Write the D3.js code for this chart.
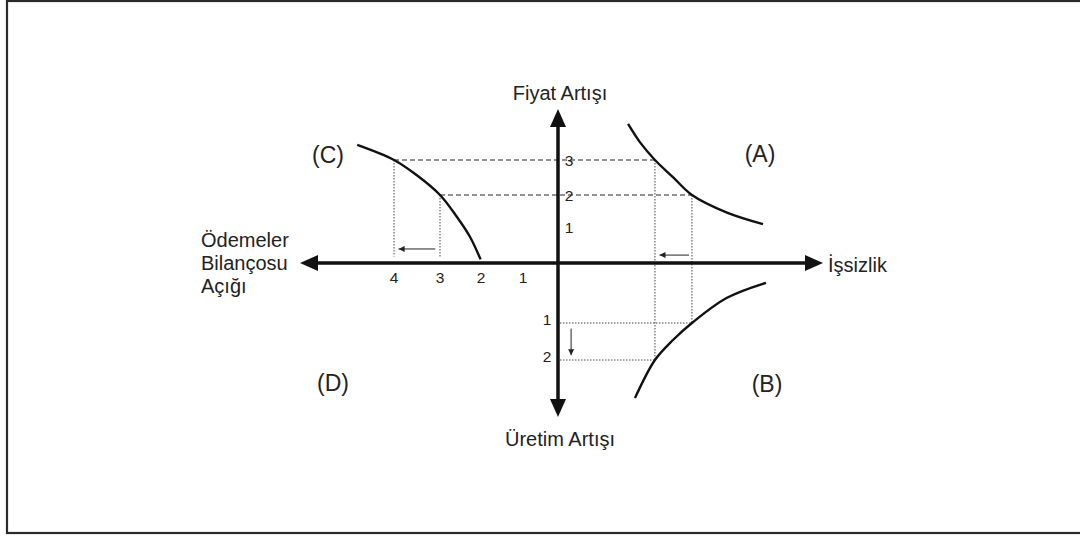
<!DOCTYPE html>
<html><head><meta charset="utf-8">
<script src="https://cdn.jsdelivr.net/npm/d3@7"></script>
<style>html,body{margin:0;padding:0;background:#fff;}svg{display:block;}</style>
</head><body>
<script>
// ---------- DATA ----------
const priceTicks = [1, 2, 3];          // Fiyat Artışı (up)
const deficitTicks = [1, 2, 3, 4];     // Ödemeler Bilançosu Açığı (left)
const outputTicks = [1, 2];            // Üretim Artışı (down)
// (C): [deficit, price]
const curveC = [[4.8, 3.43], [4, 3], [3.51, 2.57], [3, 2], [2.59, 1.32], [2.27, 0.73], [2.01, 0.1]];
// (A): [unemployment, price]
const curveA = [[2.14, 4.03], [2.5, 3.51], [2.96, 3.0], [3.51, 2.51], [4.09, 2.0], [5.16, 1.45], [6.26, 1.09]];
// (B): [unemployment, output]
const curveB = [[2.35, 3.03], [2.96, 2], [3.51, 1.46], [4.09, 1], [5.16, 0.58], [6.35, 0.33]];
const unempLevels = [2.96, 4.09];   // unemployment at price 3 and 2
const quadrantLabels = ["(A)", "(B)", "(C)", "(D)"];
const axisLabels = { up: "Fiyat Artışı", down: "Üretim Artışı", right: "İşsizlik", left: ["Ödemeler", "Bilançosu", "Açığı"] };

// ---------- LAYOUT ----------
const W = 1080, H = 539;
const ox = 558, oy = 263;
const svg = d3.select("body").append("svg").attr("width", W).attr("height", H);
const font = "'Liberation Sans', Arial, Helvetica, sans-serif";

const yUp = d3.scaleLinear().domain([0, 1, 2, 3]).range([oy, 227, 195, 160]);
const yDown = d3.scaleLinear().domain([0, 1, 2]).range([oy, 323, 360]);
const xLeft = d3.scaleLinear().domain([0, 1, 2, 3, 4]).range([ox, 523, 481, 440, 394]);
const xRight = d3.scaleLinear().domain([0, 8]).range([ox, 820]);

// frame
svg.append("rect").attr("x", 7).attr("y", 1).attr("width", 1090).attr("height", 532)
  .attr("fill", "none").attr("stroke", "#2a2a2a").attr("stroke-width", 2.2);

// marker for small arrows
svg.append("defs").append("marker").attr("id", "sa").attr("viewBox", "0 0 10 10")
  .attr("refX", 10).attr("refY", 5).attr("markerWidth", 7).attr("markerHeight", 6)
  .attr("markerUnits", "userSpaceOnUse").attr("orient", "auto")
  .append("path").attr("d", "M0,0L10,5L0,10Z").attr("fill", "#222");

const g = svg.append("g");
const dashed = { stroke: "#222", "stroke-width": 1.1, "stroke-dasharray": "5,3" };
const dotted = { stroke: "#444", "stroke-width": 1, "stroke-dasharray": "1.5,1.5" };
function line(x1, y1, x2, y2, st) {
  const l = g.append("line").attr("x1", x1).attr("y1", y1).attr("x2", x2).attr("y2", y2).attr("fill", "none");
  Object.entries(st).forEach(([k, v]) => l.attr(k, v));
  return l;
}

// dashed horizontals (price 3 and 2), from C to A
line(xLeft(4), yUp(3), xRight(unempLevels[0]), yUp(3), dashed);
line(xLeft(3), yUp(2), xRight(unempLevels[1]), yUp(2), dashed);
// dotted verticals left
line(xLeft(4), yUp(3), xLeft(4), yUp(0.18), dotted);
line(xLeft(3), yUp(2), xLeft(3), yUp(0.18), dotted);
// dotted verticals right
line(xRight(unempLevels[0]), yUp(3), xRight(unempLevels[0]), yDown(2), dotted);
line(xRight(unempLevels[1]), yUp(2), xRight(unempLevels[1]), yDown(1), dotted);
// dotted horizontals bottom
line(xRight(0.06), yDown(1), xRight(unempLevels[1] + 0.1), yDown(1), dotted);
line(xRight(0.06), yDown(2), xRight(unempLevels[0]), yDown(2), dotted);

// small arrows
const sa = { stroke: "#222", "stroke-width": 1 };
line(xLeft(3.1), yUp(0.39), xLeft(3.9), yUp(0.39), sa).attr("marker-end", "url(#sa)");
line(xRight(4.0), yUp(0.22), xRight(3.1), yUp(0.22), sa).attr("marker-end", "url(#sa)");
line(xRight(0.4), yDown(1.15), xRight(0.4), yDown(1.87), sa).attr("marker-end", "url(#sa)");

// curves
const gen = d3.line().curve(d3.curveCatmullRom.alpha(0.5));
const cs = { fill: "none", stroke: "#111", "stroke-width": 2.4 };
function curve(pts) {
  const p = g.append("path").attr("d", gen(pts));
  Object.entries(cs).forEach(([k, v]) => p.attr(k, v));
}
curve(curveC.map(d => [xLeft(d[0]), yUp(d[1])]));
curve(curveA.map(d => [xRight(d[0]), yUp(d[1])]));
curve(curveB.map(d => [xRight(d[0]), yDown(d[1])]));

// main axes
const leftTip = 300, rightTip = 823, topTip = 109, botTip = 417;
const aL = 18, aW = 8;
const ax = svg.append("g");
ax.append("line").attr("x1", leftTip + aL - 1).attr("y1", oy).attr("x2", rightTip - aL + 1).attr("y2", oy)
  .attr("stroke", "#111").attr("stroke-width", 3.5);
ax.append("line").attr("x1", ox).attr("y1", topTip + aL - 1).attr("x2", ox).attr("y2", botTip - aL + 1)
  .attr("stroke", "#111").attr("stroke-width", 3.5);
const tri = [
  [[leftTip, oy], [leftTip + aL, oy - aW], [leftTip + aL, oy + aW]],
  [[rightTip, oy], [rightTip - aL, oy - aW], [rightTip - aL, oy + aW]],
  [[ox, topTip], [ox - aW, topTip + aL], [ox + aW, topTip + aL]],
  [[ox, botTip], [ox - aW, botTip - aL], [ox + aW, botTip - aL]]
];
ax.selectAll("path.tri").data(tri).join("path").attr("class", "tri")
  .attr("d", d => "M" + d.join("L") + "Z").attr("fill", "#111");

// tick labels
const tk = svg.append("g").attr("font-family", font).attr("font-size", 15.5).attr("fill", "#222");
tk.selectAll("text.pu").data(priceTicks).join("text").attr("class", "pu")
  .attr("x", ox + 11).attr("y", d => yUp(d) + 5.5).attr("text-anchor", "middle").text(d => d);
tk.selectAll("text.od").data(outputTicks).join("text").attr("class", "od")
  .attr("x", ox - 11).attr("y", d => yDown(d) + 2).attr("text-anchor", "middle").text(d => d);
tk.selectAll("text.dl").data(deficitTicks).join("text").attr("class", "dl")
  .attr("x", d => xLeft(d)).attr("y", oy + 20).attr("text-anchor", "middle").text(d => d);

// axis labels
const lb = svg.append("g").attr("font-family", font).attr("font-size", 20).attr("fill", "#222");
lb.append("text").attr("x", ox + 2).attr("y", 100).attr("text-anchor", "middle").text(axisLabels.up);
lb.append("text").attr("x", ox + 2).attr("y", 446).attr("text-anchor", "middle").text(axisLabels.down);
lb.append("text").attr("x", rightTip + 5).attr("y", 272).text(axisLabels.right);
lb.selectAll("text.ll").data(axisLabels.left).join("text").attr("class", "ll")
  .attr("x", 201).attr("y", (d, i) => 247 + i * 23).text(d => d);

// quadrant labels
const qpos = { "(A)": [760, 162], "(B)": [767, 392], "(C)": [328, 163], "(D)": [333, 391] };
svg.append("g").attr("font-family", font).attr("font-size", 23).attr("fill", "#222")
  .selectAll("text").data(quadrantLabels).join("text")
  .attr("x", d => qpos[d][0]).attr("y", d => qpos[d][1]).attr("text-anchor", "middle").text(d => d);
</script>
</body></html>
